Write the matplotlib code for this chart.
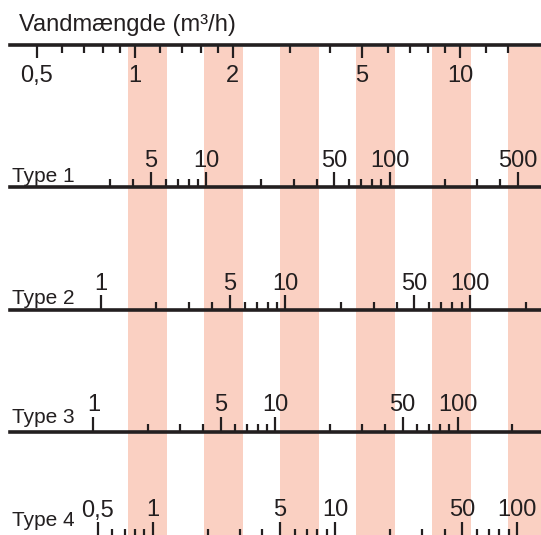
import numpy as np
import matplotlib
matplotlib.use('Agg')
from matplotlib import pyplot as plt

plt.rcParams['font.family'] = ['Liberation Sans', 'DejaVu Sans']

# Vandmængde-skala (m3/h)
q_major = [0.5, 1, 2, 5, 10]
q_major_labels = ['0,5', '1', '2', '5', '10']
q_minor = [0.6, 0.7, 0.8, 0.9, 1.2, 1.4, 1.6, 1.8, 3, 4, 6, 7, 8, 9, 12, 14]

# lyserøde felter (m3/h)
band_from = [0.955, 1.635, 2.80, 4.79, 8.20, 14.04]
band_to = [1.258, 2.154, 3.69, 6.31, 10.81, 18.5]

# typeskalaer: aflæsning = (Q / q_at_1) ** exponent
types = ['Type 1', 'Type 2', 'Type 3', 'Type 4']
q_at_1 = [0.454, 0.788, 0.747, 1.138]
exponent = [1.775, 1.763, 1.787, 1.787]
major_vals = [[5, 10, 50, 100, 500],
              [1, 5, 10, 50, 100],
              [1, 5, 10, 50, 100],
              [0.5, 1, 5, 10, 50, 100]]
major_labels = [['5', '10', '50', '100', '500'],
                ['1', '5', '10', '50', '100'],
                ['1', '5', '10', '50', '100'],
                ['0,5', '1', '5', '10', '50', '100']]
minor_vals = [[3, 4, 6, 7, 8, 9, 20, 30, 40, 60, 70, 80, 90, 200, 300, 400],
              [2, 3, 4, 6, 7, 8, 9, 20, 30, 40, 60, 70, 80, 90, 200],
              [2, 3, 4, 6, 7, 8, 9, 20, 30, 40, 60, 70, 80, 90, 200],
              [0.6, 0.7, 0.8, 0.9, 2, 3, 4, 6, 7, 8, 9, 20, 30, 40, 60, 70, 80, 90]]

# layout (pixels fra toppen)
W, H = 541, 535
top_line_y = 45
type_line_y = [187.3, 310, 431.7, 537]
type_text_y = [181.7, 304.5, 423, 526]

ink = '#231f20'
pink = '#fad0c2'

fig = plt.figure(figsize=(W / 100, H / 100), dpi=100)
ax = fig.add_axes([0, 0, 1, 1])
ax.set_xscale('log')
ax.set_xlim(0.386, 17.74)
ax.set_ylim(H, 0)
ax.axis('off')

for a, b in zip(band_from, band_to):
    ax.fill_between([a, b], 47, H, color=pink, lw=0, zorder=0)

# toppen
ax.text(19 / W, 31.5, 'Vandmængde (m³/h)', transform=ax.get_yaxis_transform(),
        fontsize=17, color=ink, va='baseline', ha='left')
ax.axhline(top_line_y, xmin=10 / W, xmax=1, color=ink, lw=2.6, zorder=3)
ax.vlines(q_major, top_line_y, top_line_y + 13, color=ink, lw=1.6, zorder=3)
ax.vlines(q_minor, top_line_y, top_line_y + 8, color=ink, lw=1.6, zorder=3)
for v, s in zip(q_major, q_major_labels):
    ax.text(v, 82, s, ha='center', va='baseline', fontsize=17, color=ink)

# typerne
for i, name in enumerate(types):
    y = type_line_y[i]
    qmaj = q_at_1[i] * np.array(major_vals[i]) ** (1 / exponent[i])
    qmin = q_at_1[i] * np.array(minor_vals[i]) ** (1 / exponent[i])
    ax.axhline(y, xmin=10 / W, xmax=1, color=ink, lw=2.6, zorder=3)
    ax.vlines(qmaj, y - 15, y, color=ink, lw=1.6, zorder=3)
    ax.vlines(qmin, y - 8, y, color=ink, lw=1.6, zorder=3)
    for q, s in zip(qmaj, major_labels[i]):
        ax.text(q, y - 20.5, s, ha='center', va='baseline', fontsize=17, color=ink)
    ax.text(12 / W, type_text_y[i], name, transform=ax.get_yaxis_transform(),
            fontsize=15, color=ink, va='baseline', ha='left')

fig.savefig('out.png', dpi=100)
